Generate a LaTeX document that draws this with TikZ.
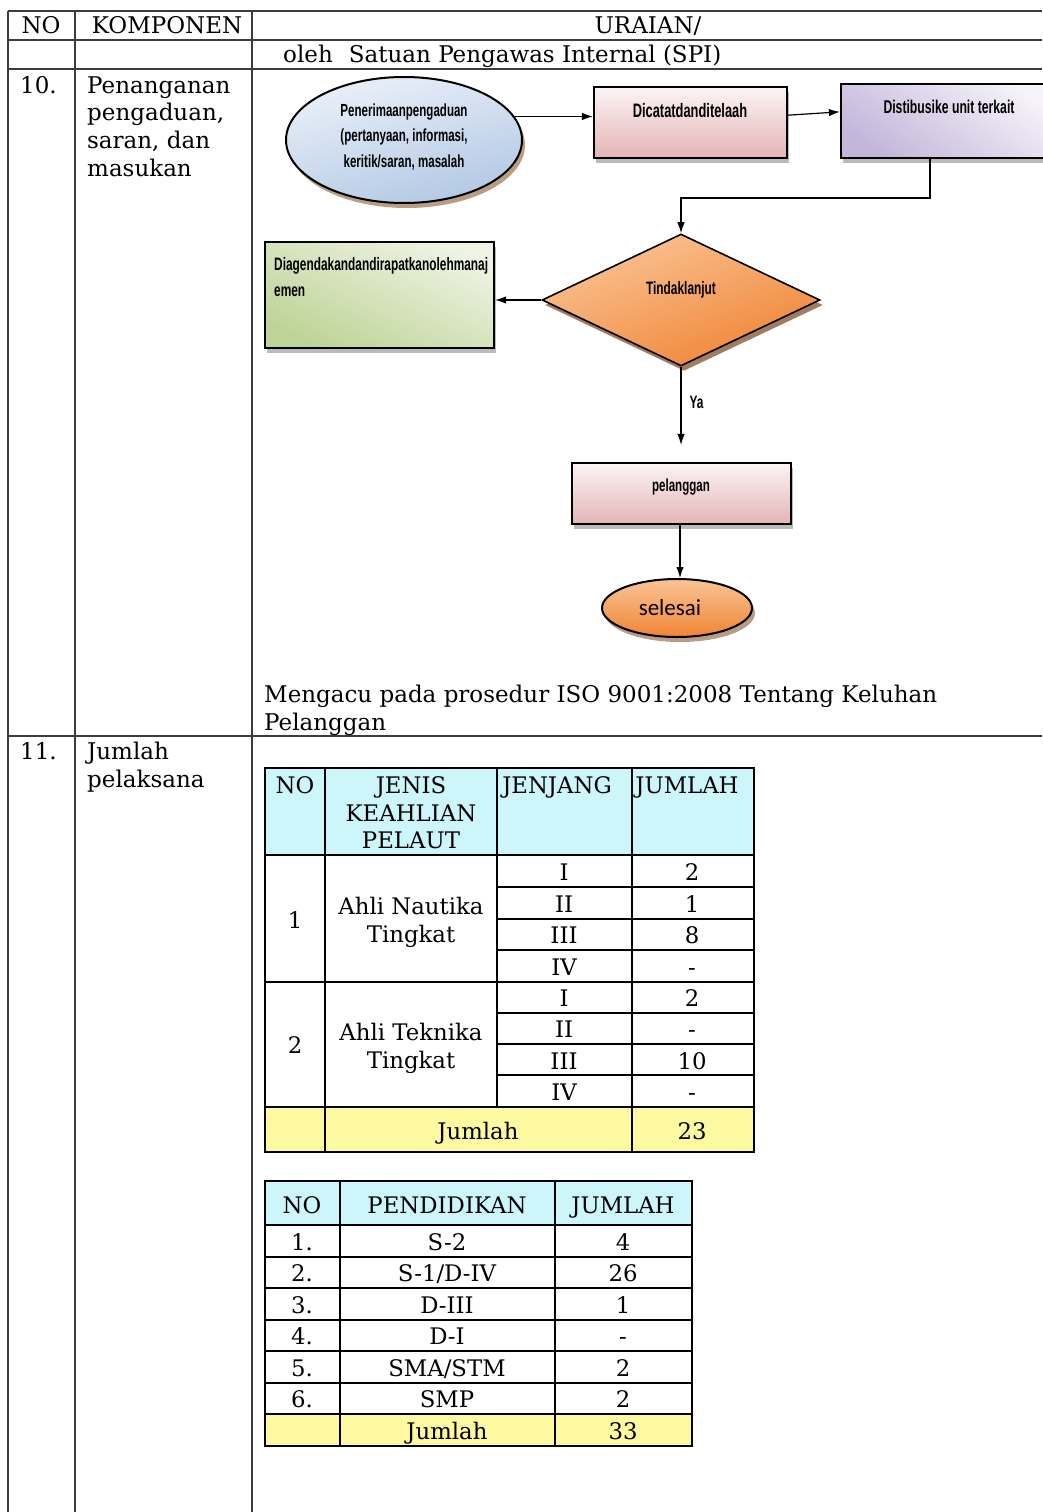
\documentclass[tikz,border=0pt]{standalone}
\usepackage{fontspec}
\setmainfont{DejaVu Serif}
\newfontfamily\fcfont[FakeStretch=0.66]{Liberation Sans}
\newfontfamily\calfont{Carlito}
\usetikzlibrary{shapes.geometric,shadows,arrows.meta,calc}
\newcommand\bdfont{\fontsize{23}{28}\selectfont}
\newcommand\tbfont{\fontsize{22.8}{28}\selectfont}
\definecolor{gridc}{RGB}{60,60,60}
\definecolor{hdcyan}{RGB}{204,246,250}
\definecolor{sumyel}{RGB}{253,249,160}
\definecolor{blueT}{RGB}{234,240,249}
\definecolor{blueB}{RGB}{178,200,228}
\definecolor{pinkT}{RGB}{252,244,244}
\definecolor{pinkB}{RGB}{228,180,182}
\definecolor{purT}{RGB}{246,244,250}
\definecolor{purB}{RGB}{196,182,218}
\definecolor{grnT}{RGB}{238,243,228}
\definecolor{grnB}{RGB}{190,212,150}
\definecolor{orT}{RGB}{250,196,150}
\definecolor{orB}{RGB}{240,132,52}
\tikzset{
  gridline/.style={draw=gridc, line width=1.3pt},
  tline/.style={draw=black, line width=2.4pt},
  bt/.style={font=\bdfont, inner sep=0pt, anchor=base west},
  tt/.style={font=\tbfont, inner sep=0pt, anchor=base},
  fshadow/.style={drop shadow={shadow xshift=2pt, shadow yshift=-5pt, fill=black!45, opacity=0.6}},
  fbox/.style={rectangle, draw=black, line width=2.2pt, inner sep=0pt, fshadow},
  fellipse/.style={ellipse, draw=black, line width=2pt, inner sep=0pt,
     drop shadow={shadow xshift=3pt, shadow yshift=-5pt, fill={rgb,255:red,140;green,90;blue,50}, opacity=0.6}},
  ft/.style={font=\fcfont\bfseries, inner sep=0pt},
  arr/.style={draw=black, line width=1.2pt, -{Latex[length=11pt,width=7.5pt]}},
}
\begin{document}
\begin{tikzpicture}[x=1pt,y=-1pt]
\useasboundingbox (0,0) rectangle (1042,1512);
\fill[white] (0,0) rectangle (1042,1512);

% ---------- outer grid ----------
\draw[gridline] (8,11) -- (1042,11);
\draw[gridline] (8,40) -- (1042,40);
\draw[gridline] (8,69) -- (1042,69);
\draw[gridline] (8,736) -- (1042,736);
\draw[gridline] (8,11) -- (8,1512);
\draw[gridline] (75,11) -- (75,1512);
\draw[gridline] (252,11) -- (252,1512);

% header texts
\node[bt, anchor=base] (hno) at (41,34) {NO};
\node[bt, anchor=base] (hkomp) at (167,34) {KOMPONEN};
\node[bt, anchor=base] (hur) at (648,34) {URAIAN/};
\node[bt] (holeh) at (283,63) {oleh\hspace{0.7em}Satuan Pengawas Internal (SPI)};

% row 10 left
\node[bt] (n10) at (20,93) {10.};
\node[bt] (k10a) at (87,93) {Penanganan};
\node[bt] (k10b) at (87,120.5) {pengaduan,};
\node[bt] (k10c) at (87,148) {saran, dan};
\node[bt] (k10d) at (87,176) {masukan};

\node[bt] (ref1) at (264,702) {Mengacu pada prosedur ISO 9001:2008 Tentang Keluhan};
\node[bt] (ref2) at (264,730) {Pelanggan};

% row 11 left
\node[bt] (n11) at (20,759) {11.};
\node[bt] (k11a) at (87,759) {Jumlah};
\node[bt] (k11b) at (87,787) {pelaksana};

% ---------- flowchart ----------
\node[fellipse, top color=blueT, bottom color=blueB, shading angle=15, minimum width=236pt, minimum height=126pt] (e1) at (404,140) {};
\node[ft, font=\fcfont\bfseries\fontsize{17.5}{25.5}\selectfont, align=center, anchor=center] (e1t) at (404,137)
  {Penerimaanpengaduan\\(pertanyaan, informasi,\\keritik/saran, masalah};

\node[fbox, top color=pinkT, bottom color=pinkB, minimum width=193pt, minimum height=71pt] (b1) at (690.5,122.5) {};
\node[ft, font=\fcfont\bfseries\fontsize{19.5}{23}\selectfont, anchor=center] (b1t) at (690,111) {Dicatatdanditelaah};

\node[fbox, top color=purT, bottom color=purB, shading angle=-35, minimum width=220pt, minimum height=74pt] (b2) at (951,121) {};
\node[ft, font=\fcfont\bfseries\fontsize{18.5}{22}\selectfont, anchor=center] (b2t) at (949,107) {Distibusike unit terkait};

\node[diamond, draw=black, line width=1.6pt, inner sep=0pt, top color=orT, bottom color=orB, shading angle=20,
      minimum width=278pt, minimum height=132pt,
      drop shadow={shadow xshift=3pt, shadow yshift=-5pt, fill={rgb,255:red,120;green,70;blue,30}, opacity=0.7}] (d1) at (681,300) {};
\node[ft, font=\fcfont\bfseries\fontsize{18}{21}\selectfont, anchor=center] (d1t) at (681,290) {Tindaklanjut};

\node[fbox, top color=grnT, bottom color=grnB, shading angle=-25, minimum width=229pt, minimum height=106pt] (g1) at (379.5,295) {};
\node[ft, font=\fcfont\bfseries\fontsize{18}{26}\selectfont, align=left, anchor=north west] (g1t) at (274,257)
  {Diagendakandandirapatkanolehmanaj\\emen};

\node[fbox, top color=pinkT, bottom color=pinkB, minimum width=219pt, minimum height=61pt] (p1) at (681.5,493.5) {};
\node[ft, font=\fcfont\bfseries\fontsize{17.5}{20}\selectfont, anchor=center] (p1t) at (681,487) {pelanggan};

\node[fellipse, top color=orT, bottom color=orB, minimum width=150pt, minimum height=58pt] (s1) at (677,608) {};
\node[inner sep=0pt, font=\calfont\fontsize{23}{26}\selectfont, anchor=center] (s1t) at (670,608) {selesai};

\coordinate (c1) at (930,198);
\draw[arr] (e1.12) -- (e1.12 -| b1.west);
\draw[arr] ($(b1.north east)!0.4!(b1.south east)$) -- ($(b2.north west)!0.38!(b2.south west)$);
\draw[arr] (c1 |- b2.south) -- (c1) -| (d1.north);
\draw[arr] (d1.west) -- (g1.east |- d1.west);
\draw[arr, shorten >=17pt] (d1.south) -- (d1.south |- p1.north)
   node[pos=0.37, anchor=west, xshift=8pt, ft, font=\fcfont\bfseries\fontsize{18}{20}\selectfont] (ya) {Ya};
\draw[arr] (p1.south -| s1.north) ++(3,0) coordinate (c2) (c2) -- (c2 |- s1.north);

% ---------- table 1 ----------
\fill[hdcyan] (265,768) rectangle (754,855);
\fill[sumyel] (265,1107) rectangle (754,1152);
\draw[tline] (265,855) -- (754,855);
\foreach \yy in {887,919,950,1013,1044,1075} \draw[tline] (497,\yy) -- (754,\yy);
\draw[tline] (265,982) -- (754,982);
\draw[tline] (265,1107) -- (754,1107);
\draw[tline] (325,768) -- (325,1152);
\draw[tline] (497,768) -- (497,1107);
\draw[tline] (632,768) -- (632,1152);
\draw[tline] (265,768) rectangle (754,1152);

\node[tt] (t1h1) at (295,793) {NO};
\node[tt] (t1h2a) at (411,793) {JENIS};
\node[tt] (t1h2b) at (411,821) {KEAHLIAN};
\node[tt] (t1h2c) at (411,848) {PELAUT};
\node[tt] (t1h3) at (557,793) {JENJANG};
\node[tt] (t1h4) at (687,793) {JUMLAH};

\node[tt] (t1n1) at (295,928) {1};
\node[tt] (t1j1a) at (411,914) {Ahli Nautika};
\node[tt] (t1j1b) at (411,942) {Tingkat};
\node[tt] (t1n2) at (295,1053) {2};
\node[tt] (t1j2a) at (411,1040) {Ahli Teknika};
\node[tt] (t1j2b) at (411,1068) {Tingkat};

\node[tt] (r1) at (564,880) {I};   \node[tt] (v1) at (692,880) {2};
\node[tt] (r2) at (564,912) {II};  \node[tt] (v2) at (692,912) {1};
\node[tt] (r3) at (564,943) {III}; \node[tt] (v3) at (692,943) {8};
\node[tt] (r4) at (564,975) {IV};  \node[tt] (v4) at (692,975) {-};
\node[tt] (r5) at (564,1006) {I};   \node[tt] (v5) at (692,1006) {2};
\node[tt] (r6) at (564,1037) {II}; \node[tt] (v6) at (692,1037) {-};
\node[tt] (r7) at (564,1069) {III};\node[tt] (v7) at (692,1069) {10};
\node[tt] (r8) at (564,1100) {IV}; \node[tt] (v8) at (692,1100) {-};
\node[tt] (t1s) at (478,1139) {Jumlah};
\node[tt] (t1sv) at (692,1139) {23};

% ---------- table 2 ----------
\fill[hdcyan] (265,1181) rectangle (692,1225);
\fill[sumyel] (265,1414) rectangle (692,1446);
\foreach \yy in {1225,1257,1288,1320,1351,1383,1414} \draw[tline] (265,\yy) -- (692,\yy);
\draw[tline] (340,1181) -- (340,1446);
\draw[tline] (555,1181) -- (555,1446);
\draw[tline] (265,1181) rectangle (692,1446);

\node[tt] (t2h1) at (302,1213) {NO};
\node[tt] (t2h2) at (447,1213) {PENDIDIKAN};
\node[tt] (t2h3) at (623,1213) {JUMLAH};
\node[tt] (a1) at (302,1250) {1.}; \node[tt] (b21) at (447,1250) {S-2};       \node[tt] (c21) at (623,1250) {4};
\node[tt] (a2) at (302,1281) {2.}; \node[tt] (b22) at (447,1281) {S-1/D-IV};  \node[tt] (c22) at (623,1281) {26};
\node[tt] (a3) at (302,1313) {3.}; \node[tt] (b23) at (447,1313) {D-III};     \node[tt] (c23) at (623,1313) {1};
\node[tt] (a4) at (302,1344) {4.}; \node[tt] (b24) at (447,1344) {D-I};       \node[tt] (c24) at (623,1344) {-};
\node[tt] (a5) at (302,1376) {5.}; \node[tt] (b25) at (447,1376) {SMA/STM};   \node[tt] (c25) at (623,1376) {2};
\node[tt] (a6) at (302,1407) {6.}; \node[tt] (b26) at (447,1407) {SMP};       \node[tt] (c26) at (623,1407) {2};
\node[tt] (b27) at (447,1439) {Jumlah}; \node[tt] (c27) at (623,1439) {33};
\end{tikzpicture}
\end{document}
